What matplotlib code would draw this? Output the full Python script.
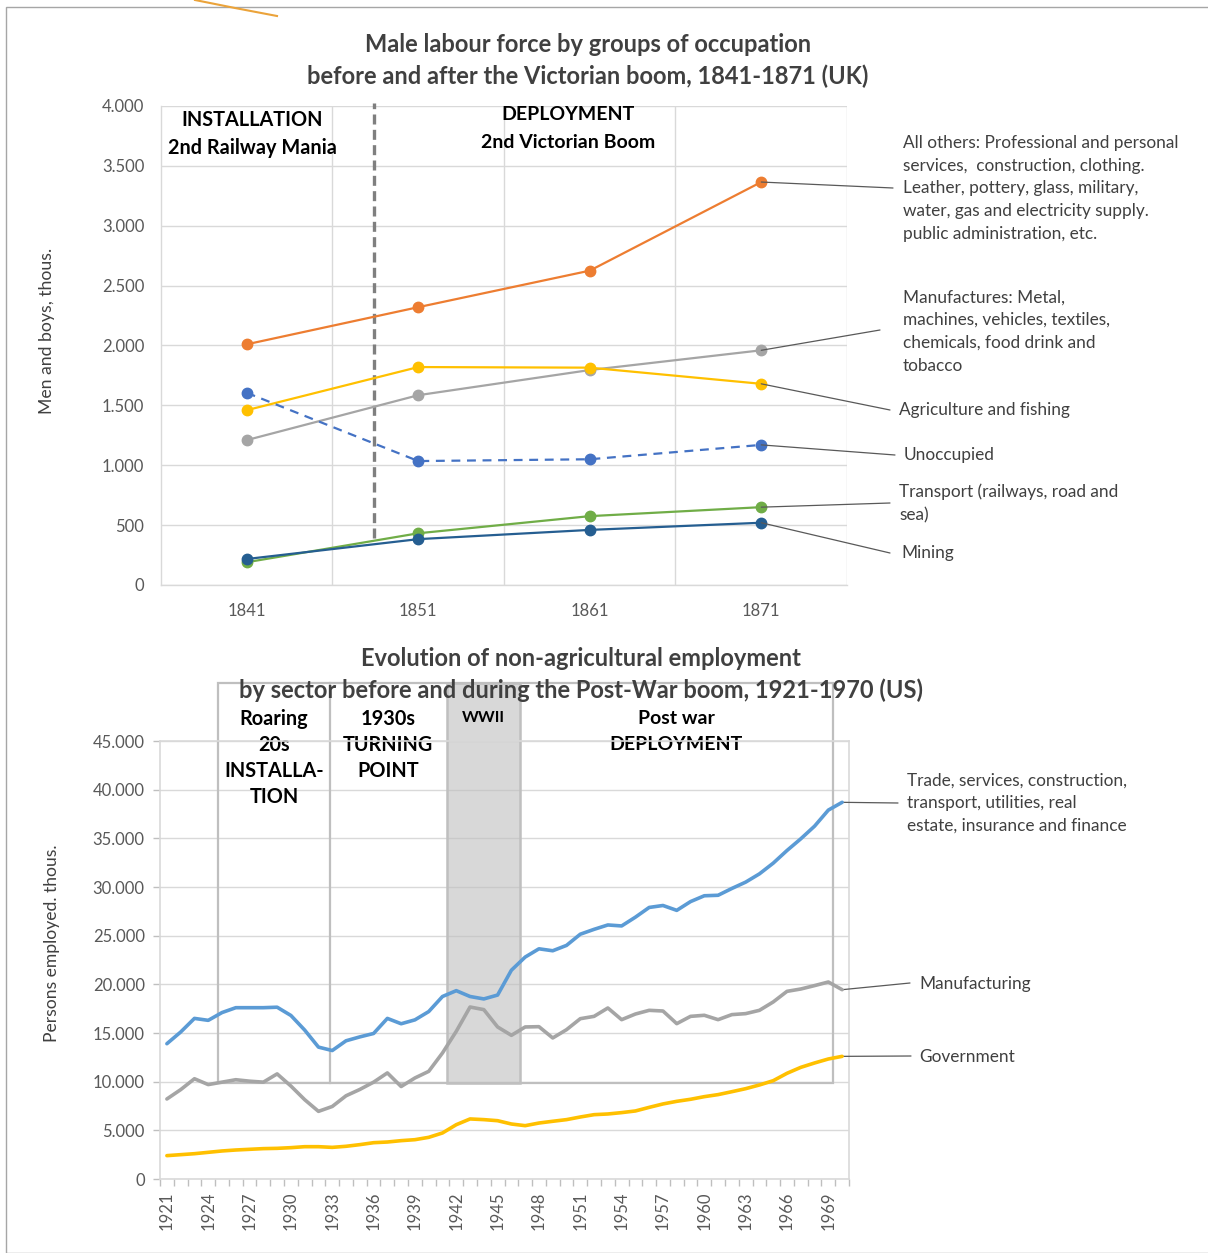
import matplotlib
matplotlib.use("Agg")
import matplotlib.pyplot as plt
from matplotlib.lines import Line2D
from matplotlib.patches import Rectangle
from matplotlib.ticker import FuncFormatter, FixedLocator
import numpy as np

plt.rcParams['font.family'] = ['Lato', 'DejaVu Sans']

# ---------------- data: UK (top) ----------------
uk_years = ['1841', '1851', '1861', '1871']
all_others = [2010, 2320, 2625, 3365]
agriculture = [1460, 1820, 1815, 1680]
manufactures = [1210, 1585, 1795, 1960]
unoccupied = [1605, 1035, 1050, 1170]
transport = [190, 432, 575, 650]
mining = [217, 383, 460, 520]

uk_labels = [
    "All others: Professional and personal\nservices,  construction, clothing.\nLeather, pottery, glass, military,\nwater, gas and electricity supply.\npublic administration, etc.",
    "Manufactures: Metal,\nmachines, vehicles, textiles,\nchemicals, food drink and\ntobacco",
    "Agriculture and fishing",
    "Unoccupied",
    "Transport (railways, road and\nsea)",
    "Mining",
]

# ---------------- data: US (bottom) ----------------
us_years = list(range(1921, 1971))
trade_services = [13900, 15100, 16500, 16300, 17100, 17600, 17600, 17600, 17650, 16800,
                  15300, 13550, 13200, 14200, 14600, 14950, 16500, 15950, 16350, 17200,
                  18750, 19350, 18750, 18500, 18900, 21450, 22800, 23650, 23450, 24000,
                  25150, 25650, 26100, 26000, 26900, 27900, 28100, 27600, 28500, 29100,
                  29150, 29850, 30500, 31350, 32450, 33750, 34950, 36250, 37900, 38700]
manufacturing = [8220, 9180, 10300, 9700, 9950, 10200, 10050, 9950, 10800, 9550,
                 8150, 6950, 7450, 8550, 9200, 9950, 10900, 9500, 10380, 11060,
                 12950, 15170, 17670, 17400, 15620, 14760, 15620, 15650, 14490, 15340,
                 16470, 16710, 17570, 16370, 16950, 17330, 17260, 15960, 16710, 16820,
                 16370, 16890, 16990, 17330, 18190, 19280, 19520, 19870, 20240, 19450]
government = [2400, 2500, 2600, 2740, 2880, 2980, 3050, 3120, 3150, 3220,
              3320, 3320, 3250, 3360, 3530, 3730, 3800, 3940, 4040, 4280,
              4730, 5580, 6170, 6100, 5990, 5650, 5480, 5750, 5930, 6100,
              6370, 6610, 6680, 6820, 6990, 7360, 7710, 7980, 8190, 8460,
              8670, 8970, 9280, 9660, 10100, 10860, 11470, 11920, 12330, 12600]
us_labels = ["Trade, services, construction,\ntransport, utilities, real\nestate, insurance and finance",
             "Manufacturing", "Government"]

W, H = 1208, 1253
fig = plt.figure(figsize=(W / 100, H / 100), dpi=100)

def fx(px):
    return px / W

def fy(py):
    return 1 - py / H

TXT = '#404040'
TICK = '#595959'
GRID = '#D9D9D9'
LEAD = '#595959'
LBL = 12.4

def lines_text(x, ys, text, size=LBL, color=TXT, ha='left', weight='normal', host=None, z=3):
    for yy, t in zip(ys, text.split('\n')):
        if host is None:
            fig.text(fx(x), fy(yy), t, fontsize=size, color=color, ha=ha, va='center',
                     weight=weight)
        else:
            host.text(fx(x), fy(yy), t, fontsize=size, color=color, ha=ha, va='center',
                      weight=weight, transform=fig.transFigure, clip_on=False, zorder=z)

thous = FuncFormatter(lambda v, p: f"{int(round(v)):,}".replace(",", "."))

# figure border & stray stroke
fig.add_artist(Rectangle((fx(5.5), 0), 1, fy(6.5), transform=fig.transFigure,
                         fill=False, ec='#A6A6A6', lw=1.0))
fig.add_artist(Line2D([fx(195), fx(235), fx(277)], [fy(0), fy(8), fy(16)],
                      transform=fig.transFigure, color='#EBA33A', lw=1.5))

# ================= TOP CHART =================
ax1 = fig.add_axes([fx(161), fy(585), fx(847) - fx(161), fy(106) - fy(585)])
x = np.arange(len(uk_years))
series_top = [
    (all_others, '#ED7D31', '-'),
    (manufactures, '#A5A5A5', '-'),
    (agriculture, '#FFC000', '-'),
    (unoccupied, '#4472C4', (0, (4, 3))),
    (transport, '#70AD47', '-'),
    (mining, '#255E91', '-'),
]
for vals, c, ls in series_top:
    ax1.plot(x, vals, color=c, lw=1.6, ls=ls, marker='o', ms=7.5, mec=c, mfc=c, zorder=3)

ax1.set_xlim(-0.5, 3.5)
ax1.set_ylim(0, 4000)
ax1.set_yticks(np.arange(0, 4001, 500))
ax1.yaxis.set_major_formatter(thous)
ax1.set_xticks(x)
ax1.set_xticklabels(uk_years)
ax1.xaxis.set_minor_locator(FixedLocator([0.5, 1.5, 2.5, 3.5]))
ax1.grid(axis='y', which='major', color=GRID, lw=1.0, zorder=0)
ax1.grid(axis='x', which='minor', color=GRID, lw=1.0, zorder=0)
for s in ['top', 'right']:
    ax1.spines[s].set_visible(False)
ax1.spines['left'].set_color(GRID)
ax1.spines['bottom'].set_color(GRID)
ax1.spines['left'].set_linewidth(1.0)
ax1.spines['bottom'].set_linewidth(1.0)
ax1.tick_params(axis='both', which='both', length=0, labelsize=12, colors=TICK, pad=12)
ax1.tick_params(axis='x', pad=13)
ax1.set_axisbelow(True)
fig.text(fx(47), fy(331), 'Men and boys, thous.', rotation=90, fontsize=12.7,
         color=TXT, ha='center', va='center')

# dashed separator
ax1.plot([0.74, 0.74], [392, 4025], color='#7F7F7F', lw=2.4, ls=(0, (3, 1.6)),
         clip_on=False, zorder=2)

# titles & phase labels
fig.text(fx(588), fy(45), 'Male labour force by groups of occupation', fontsize=17,
         weight='bold', color=TXT, ha='center', va='center')
fig.text(fx(588), fy(76), 'before and after the Victorian boom, 1841-1871 (UK)', fontsize=17,
         weight='bold', color=TXT, ha='center', va='center')
lines_text(252, [120, 148], 'INSTALLATION\n2nd Railway Mania', size=14.3, color='black',
           ha='center', weight='bold')
lines_text(568, [115, 142], 'DEPLOYMENT\n2nd Victorian Boom', size=14, color='black',
           ha='center', weight='bold')

# leaders & labels (top)
lead_top = [
    (all_others, (893, 188), 903, [143, 166, 188, 211, 234]),
    (manufactures, (880, 330), 903, [298, 320, 343, 366]),
    (agriculture, (890, 410), 899, [410]),
    (unoccupied, (895, 455), 904, [455]),
    (transport, (890, 503), 899, [492, 515]),
    (mining, (890, 553), 901, [553]),
]
for (vals, (ex, ey), tx, tys), lab in zip(lead_top, uk_labels):
    ax1.annotate('', xy=(3, vals[-1]), xycoords='data', xytext=(fx(ex), fy(ey)),
                 textcoords='figure fraction',
                 arrowprops=dict(arrowstyle='-', color=LEAD, lw=0.9, shrinkA=0, shrinkB=0))
    lines_text(tx, tys, lab)

# ================= BOTTOM CHART =================
ax2 = fig.add_axes([fx(160), fy(1179), fx(849) - fx(160), fy(741) - fy(1179)])
yrs = np.array(us_years)
ax2.plot(yrs, trade_services, color='#5B9BD5', lw=2.6, zorder=4, solid_capstyle='round')
ax2.plot(yrs, manufacturing, color='#A5A5A5', lw=2.6, zorder=4, solid_capstyle='round')
ax2.plot(yrs, government, color='#FFC000', lw=2.6, zorder=4, solid_capstyle='round')
ax2.set_xlim(1920.5, 1970.5)
ax2.set_ylim(0, 45000)
ax2.set_yticks(np.arange(0, 45001, 5000))
ax2.yaxis.set_major_formatter(thous)
ax2.xaxis.set_major_locator(FixedLocator(np.arange(1920.5, 1971, 1.0)))
ax2.xaxis.set_major_formatter(FuncFormatter(lambda v, p: ''))
ax2.xaxis.set_minor_locator(FixedLocator(yrs[::3]))
ax2.xaxis.set_minor_formatter(FuncFormatter(lambda v, p: str(int(round(v)))))
ax2.tick_params(axis='x', which='major', length=5, color='#BFBFBF', width=1)
ax2.tick_params(axis='x', which='minor', length=0, labelsize=12, colors=TICK,
                labelrotation=90, pad=9)
ax2.tick_params(axis='y', length=5, color='#BFBFBF', width=1, labelsize=12,
                colors=TICK, pad=6)
ax2.set_axisbelow(True)
ax2.grid(axis='y', color=GRID, lw=1.0)
for s in ['left', 'bottom', 'right', 'top']:
    ax2.spines[s].set_color(GRID)
    ax2.spines[s].set_linewidth(1.2)
fig.text(fx(52), fy(943), 'Persons employed. thous.', rotation=90, fontsize=12.6,
         color=TXT, ha='center', va='center')

# overlay frames (period boxes)
y_top, y_bot = 50960, 9860
ax2.add_patch(Rectangle((1941.33, y_bot), 1946.62 - 1941.33, y_top - y_bot,
                        facecolor='#BFBFBF', alpha=0.6, edgecolor='none',
                        clip_on=False, zorder=1))
ax2.add_patch(Rectangle((1941.33, y_bot), 1946.62 - 1941.33, y_top - y_bot,
                        fill=False, edgecolor='#BFBFBF', lw=1.8, clip_on=False, zorder=1.1))
ax2.add_patch(Rectangle((1924.71, y_bot), 1969.34 - 1924.71, y_top - y_bot,
                        fill=False, edgecolor='#BFBFBF', lw=1.6, clip_on=False, zorder=1.2))
ax2.plot([1932.84, 1932.84], [y_bot, y_top], color='#BFBFBF', lw=1.6, clip_on=False, zorder=1.2)

# titles & period labels
fig.text(fx(581), fy(659), 'Evolution of non-agricultural employment', fontsize=17,
         weight='bold', color=TXT, ha='center', va='center', zorder=5)
fig.text(fx(581), fy(690), 'by sector before and during the Post-War boom, 1921-1970 (US)',
         fontsize=17, weight='bold', color=TXT, ha='center', va='center', zorder=5)
lines_text(274, [719, 745, 771, 797], 'Roaring\n20s\nINSTALLA-\nTION', size=14.3,
           color='black', ha='center', weight='bold', host=ax2, z=1.5)
lines_text(388, [719, 745, 771], '1930s\nTURNING\nPOINT', size=14.3, color='black',
           ha='center', weight='bold', host=ax2, z=1.5)
lines_text(483, [718], 'WWII', size=11.5, color='black', ha='center', weight='bold',
           host=ax2, z=1.5)
lines_text(676, [719, 745], 'Post war\nDEPLOYMENT', size=14, color='black',
           ha='center', weight='bold', host=ax2, z=1.5)

lead_bot = [
    (trade_services, (898, 803), 907, [781, 803, 826]),
    (manufacturing, (910, 983), 919, [984]),
    (government, (911, 1056), 919, [1057]),
]
for (vals, (ex, ey), tx, tys), lab in zip(lead_bot, us_labels):
    ax2.annotate('', xy=(1970, vals[-1]), xycoords='data', xytext=(fx(ex), fy(ey)),
                 textcoords='figure fraction',
                 arrowprops=dict(arrowstyle='-', color=LEAD, lw=0.9, shrinkA=0, shrinkB=0))
    lines_text(tx, tys, lab)

fig.savefig('out.png', dpi=100)
